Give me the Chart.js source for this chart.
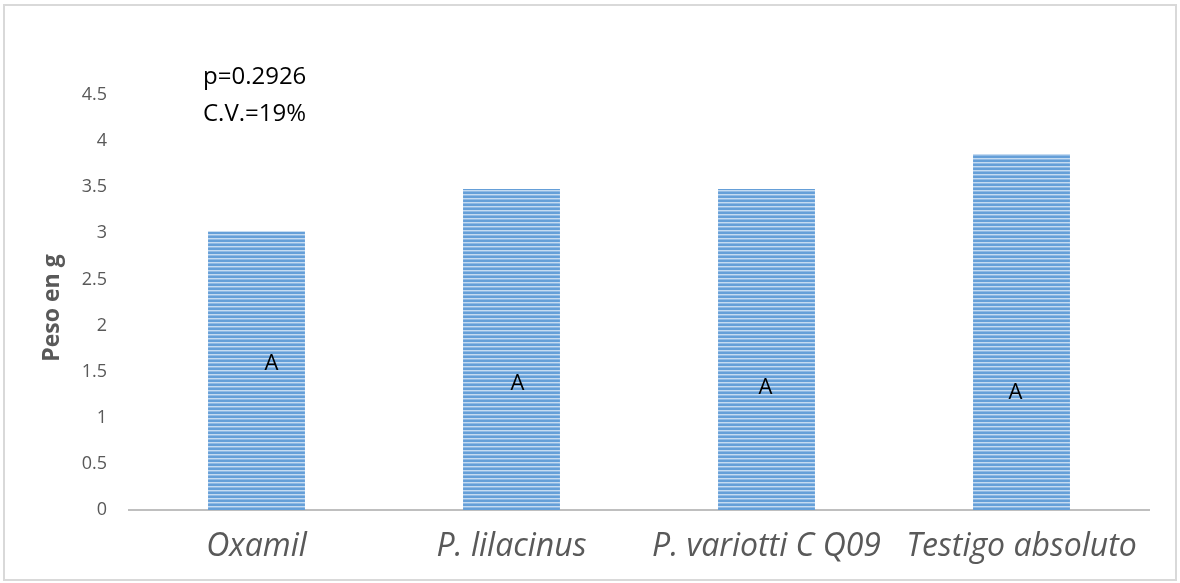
<!DOCTYPE html>
<html>
<head>
<meta charset="utf-8">
<script src="https://cdn.jsdelivr.net/npm/chart.js@4.4.1/dist/chart.umd.min.js"></script>
<style>
  html, body { margin: 0; padding: 0; background: #fff; }
  #wrap { width: 1180px; height: 583px; position: relative; }
</style>
</head>
<body>
<div id="wrap"><canvas id="c" width="1180" height="583"></canvas></div>
<script>
// Treatments and mean fresh weight (g)
const categories = ['Oxamil', 'P. lilacinus', 'P. variotti C Q09', 'Testigo absoluto'];
const pesoValues = [3.02, 3.48, 3.48, 3.86];
// Letter groups (Tukey) and the height (g) at which each letter sits
const groupLetters = ['A', 'A', 'A', 'A'];
const letterHeights = [1.59, 1.37, 1.33, 1.27];
const yTicks = [0, 0.5, 1, 1.5, 2, 2.5, 3, 3.5, 4, 4.5];
const statLines = ['p=0.2926', 'C.V.=19%'];

const FONT = "'Open Sans', 'Liberation Sans', sans-serif";
const GREY = '#595959';

// Narrow horizontal stripe fill
function stripePattern() {
  const p = document.createElement('canvas');
  p.width = 8; p.height = 4;
  const g = p.getContext('2d');
  g.fillStyle = '#659fd8'; g.fillRect(0, 0, 8, 2);
  g.fillStyle = '#c5dbf1'; g.fillRect(0, 2, 8, 1);
  g.fillStyle = '#8fb9e4'; g.fillRect(0, 3, 8, 1);
  return g.createPattern(p, 'repeat');
}

const decorations = {
  id: 'decorations',
  afterDatasetsDraw(chart) {
    const ctx = chart.ctx;
    const x = chart.scales.x, y = chart.scales.y;
    ctx.save();
    // group letters
    ctx.fillStyle = '#000';
    ctx.font = "22px " + FONT;
    ctx.textAlign = 'center';
    ctx.textBaseline = 'middle';
    const shift = [15, 6, -1, -6];
    groupLetters.forEach((t, i) => {
      ctx.fillText(t, x.getPixelForValue(i) + shift[i], y.getPixelForValue(letterHeights[i]));
    });
    // statistics text
    ctx.font = "24px " + FONT;
    ctx.textAlign = 'left';
    ctx.textBaseline = 'middle';
    statLines.forEach((t, i) => ctx.fillText(t, 203, 77 + i * 37));
    // y axis title
    ctx.translate(52, 308);
    ctx.rotate(-Math.PI / 2);
    ctx.fillStyle = GREY;
    ctx.font = "bold 23px " + FONT;
    ctx.textAlign = 'center';
    ctx.fillText('Peso en g', 0, 0);
    ctx.restore();
  },
  afterDraw(chart) {
    const ctx = chart.ctx;
    ctx.save();
    ctx.strokeStyle = '#d9d9d9';
    ctx.lineWidth = 2;
    ctx.strokeRect(4, 5, 1172, 575);
    ctx.restore();
  }
};

new Chart(document.getElementById('c'), {
  type: 'bar',
  data: {
    labels: categories,
    datasets: [{
      data: pesoValues,
      backgroundColor: stripePattern(),
      borderWidth: 0,
      categoryPercentage: 1,
      barPercentage: 0.38
    }]
  },
  options: {
    responsive: false,
    animation: false,
    events: [],
    layout: { padding: { left: 0, right: 31, top: 95, bottom: 0 } },
    plugins: { legend: { display: false }, tooltip: { enabled: false } },
    scales: {
      x: {
        grid: { display: false, drawTicks: false },
        border: { display: true, color: '#bfbfbf', width: 2 },
        ticks: { color: GREY, font: { family: FONT, size: 32, style: 'italic' }, padding: 18, maxRotation: 0, autoSkip: false },
        afterFit(s) { s.height = 73; }
      },
      y: {
        min: 0, max: 4.5,
        afterBuildTicks(s) { s.ticks = yTicks.map(v => ({ value: v })); },
        grid: { display: false, drawTicks: false },
        border: { display: false },
        ticks: { color: GREY, font: { family: FONT, size: 18 }, padding: 22, callback: v => String(v) },
        afterFit(s) { s.width = 129; }
      }
    }
  },
  plugins: [decorations]
});
</script>
</body>
</html>
